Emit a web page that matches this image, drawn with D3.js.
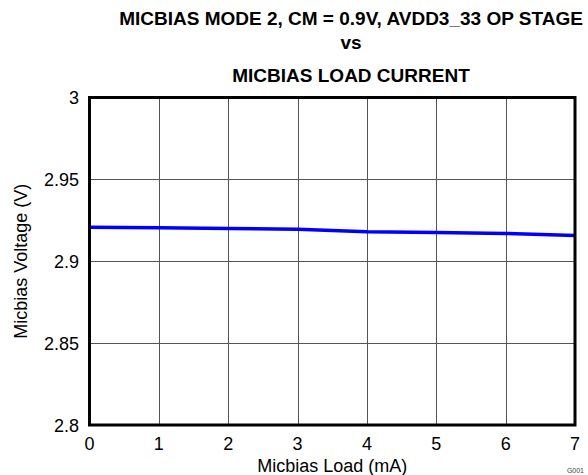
<!DOCTYPE html>
<html>
<head>
<meta charset="utf-8">
<script src="https://cdn.jsdelivr.net/npm/d3@7"></script>
<style>
	body { margin: 0; background: #fff; }
	svg { display: block; font-family: "Liberation Sans", Arial, sans-serif; }
	.grid line { stroke: #555; stroke-width: 1; shape-rendering: crispEdges; }
	.tick-label { font-size: 18px; fill: #000; }
	.title { font-size: 19px; font-weight: bold; fill: #000; }
	.axis-title { font-size: 18px; fill: #000; }
</style>
</head>
<body>
<svg id="chart" width="588" height="475"></svg>
<script>
// Load current (mA) and measured micbias voltage (V)
var load_ma = [0, 1, 2, 3, 4, 5, 6, 7];
var micbias_v = [2.9207, 2.9205, 2.9200, 2.9195, 2.9180, 2.9176, 2.9170, 2.9157];

var x_ticks = [0, 1, 2, 3, 4, 5, 6, 7];
var y_ticks = [2.8, 2.85, 2.9, 2.95, 3];
var y_tick_text = ["2.8", "2.85", "2.9", "2.95", "3"];

var title_lines = ["MICBIAS MODE 2, CM = 0.9V, AVDD3_33 OP STAGE", "vs", "MICBIAS LOAD CURRENT"];
var x_label = "Micbias Load (mA)";
var y_label = "Micbias Voltage (V)";
var graph_id = "G001";

var plot = {left: 89.5, right: 575, top: 97.5, bottom: 425};

var svg = d3.select("#chart");

var sx = d3.scaleLinear().domain([0, 7]).range([plot.left, plot.right]);
var sy = d3.scaleLinear().domain([2.8, 3]).range([plot.bottom, plot.top]);

// grid
var grid = svg.append("g").attr("class", "grid");
grid.selectAll(".gx").data(x_ticks.slice(1, -1)).enter()
	.append("line")
	.attr("x1", function(d){ return Math.round(sx(d)) + 0.5; })
	.attr("x2", function(d){ return Math.round(sx(d)) + 0.5; })
	.attr("y1", plot.top).attr("y2", plot.bottom);
grid.selectAll(".gy").data(y_ticks.slice(1, -1)).enter()
	.append("line")
	.attr("x1", plot.left).attr("x2", plot.right)
	.attr("y1", function(d){ return Math.round(sy(d)) + 0.5; })
	.attr("y2", function(d){ return Math.round(sy(d)) + 0.5; });

// data line
var line = d3.line()
	.x(function(d, i){ return sx(load_ma[i]); })
	.y(function(d){ return sy(d); });
svg.append("path")
	.datum(micbias_v)
	.attr("d", line)
	.attr("fill", "none")
	.attr("stroke", "#0000ff")
	.attr("stroke-width", 3.5);

// frame
svg.append("rect")
	.attr("x", plot.left).attr("y", plot.top)
	.attr("width", plot.right - plot.left)
	.attr("height", plot.bottom - plot.top)
	.attr("fill", "none")
	.attr("stroke", "#000")
	.attr("stroke-width", 3);

// tick labels
svg.selectAll(".xt").data(x_ticks).enter()
	.append("text")
	.attr("class", "tick-label")
	.attr("x", function(d){ return sx(d); })
	.attr("y", 450)
	.attr("text-anchor", "middle")
	.text(function(d){ return d; });
svg.selectAll(".yt").data(y_ticks).enter()
	.append("text")
	.attr("class", "tick-label")
	.attr("x", 79)
	.attr("y", function(d){ return sy(d) + 6.5; })
	.attr("text-anchor", "end")
	.text(function(d, i){ return y_tick_text[i]; });

// axis titles
svg.append("text")
	.attr("class", "axis-title")
	.attr("x", (plot.left + plot.right) / 2)
	.attr("y", 472)
	.attr("text-anchor", "middle")
	.text(x_label);
svg.append("text")
	.attr("class", "axis-title")
	.attr("transform", "translate(27," + ((plot.top + plot.bottom) / 2) + ") rotate(-90)")
	.attr("text-anchor", "middle")
	.text(y_label);

// title
var title_y = [25, 49, 82];
svg.selectAll(".title").data(title_lines).enter()
	.append("text")
	.attr("class", "title")
	.attr("x", 351)
	.attr("y", function(d, i){ return title_y[i]; })
	.attr("text-anchor", "middle")
	.text(function(d){ return d; });

svg.append("text")
	.attr("x", 584).attr("y", 473)
	.attr("text-anchor", "end")
	.attr("font-size", 7)
	.attr("fill", "#444")
	.text(graph_id);
</script>
</body>
</html>
